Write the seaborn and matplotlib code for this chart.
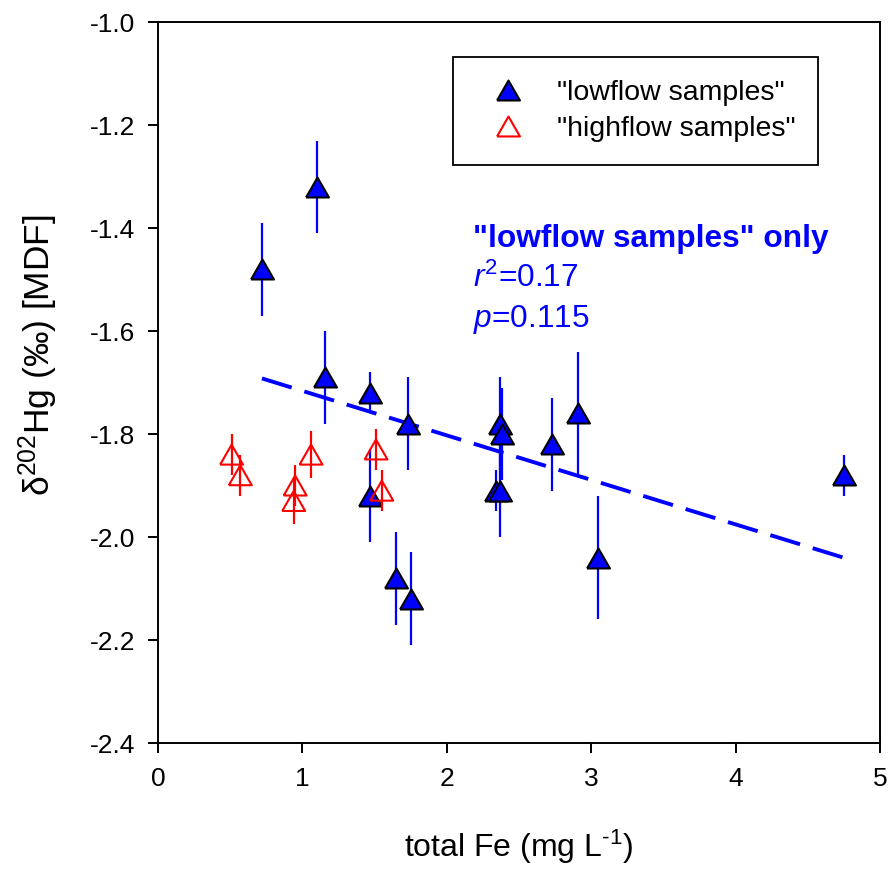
"""
Mercury isotope (d202Hg, MDF) versus total Fe for lowflow and highflow samples,
with a least-squares line fitted to the lowflow samples only.
"""

import matplotlib
matplotlib.use("Agg")
import matplotlib.pyplot as plt
from matplotlib.lines import Line2D
import pandas as pd
import seaborn as sns

# --- data ---------------------------------------------------------------
low_fe = [0.72, 1.10, 1.16, 1.47, 1.47, 1.73, 1.65, 1.75,
          2.37, 2.38, 2.34, 2.37, 2.73, 2.91, 3.05, 4.75]
low_d202 = [-1.48, -1.32, -1.69, -1.72, -1.92, -1.78, -2.08, -2.12,
            -1.78, -1.80, -1.91, -1.91, -1.82, -1.76, -2.04, -1.88]
low_err = [0.09, 0.09, 0.09, 0.04, 0.09, 0.09, 0.09, 0.09,
           0.09, 0.09, 0.04, 0.09, 0.09, 0.12, 0.12, 0.04]

high_fe = [0.51, 0.57, 0.95, 0.94, 1.06, 1.51, 1.55]
high_d202 = [-1.84, -1.88, -1.90, -1.93, -1.84, -1.83, -1.91]
high_err = [0.04, 0.04, 0.04, 0.045, 0.045, 0.04, 0.04]

legend_labels = ['"lowflow samples"', '"highflow samples"']
fit_title = '"lowflow samples" only'
fit_r2 = "0.17"
fit_p = "0.115"

x_ticks = [0, 1, 2, 3, 4, 5]
y_ticks = [-2.4, -2.2, -2.0, -1.8, -1.6, -1.4, -1.2, -1.0]

low = pd.DataFrame({"fe": low_fe, "d202": low_d202, "err": low_err})
high = pd.DataFrame({"fe": high_fe, "d202": high_d202, "err": high_err})

# --- style ----------------------------------------------------------------
sns.set_style("ticks", {"text.color": "black", "axes.labelcolor": "black",
                        "xtick.color": "black", "ytick.color": "black",
                        "axes.edgecolor": "black"})
plt.rcParams["font.family"] = ["Liberation Sans", "DejaVu Sans"]
plt.rcParams["mathtext.fontset"] = "custom"
plt.rcParams["mathtext.rm"] = "Liberation Sans"
plt.rcParams["mathtext.it"] = "Liberation Sans:italic"
plt.rcParams["axes.unicode_minus"] = False

BLUE = "#0000ff"
RED = "#ff0000"
# triangle a bit wider than tall, like the original plotting software
tri = [(-1.0, -0.87), (1.0, -0.87), (0.0, 0.87), (-1.0, -0.87)]
MS = 16.5

fig = plt.figure(figsize=(8.92, 8.72), dpi=100)
ax = fig.add_axes([0.1771, 0.1479, 0.8094, 0.8268])

# error bars first so the filled triangles sit on top of them
ax.errorbar(low["fe"], low["d202"], yerr=low["err"], fmt="none",
            ecolor=BLUE, elinewidth=1.6, capsize=0, zorder=2)
ax.errorbar(high["fe"], high["d202"], yerr=high["err"], fmt="none",
            ecolor=RED, elinewidth=1.6, capsize=0, zorder=5)

# regression on the lowflow samples only
sns.regplot(data=low, x="fe", y="d202", ax=ax, scatter=False, ci=None,
            truncate=True, color=BLUE,
            line_kws={"linewidth": 2.8, "dashes": (8, 3.4), "zorder": 3})

sns.scatterplot(data=low, x="fe", y="d202", ax=ax, marker=tri, s=MS ** 2,
                color=BLUE, edgecolor="black", linewidth=1.5, zorder=4)
sns.scatterplot(data=high, x="fe", y="d202", ax=ax, marker=tri, s=MS ** 2,
                facecolor="none", edgecolor=RED, linewidth=1.5, zorder=4)

ax.set_xlim(0, 5)
ax.set_ylim(-2.4, -1.0)
ax.set_xticks(x_ticks)
ax.set_yticks(y_ticks)
ax.set_yticklabels([f"{v:.1f}" for v in y_ticks])
ax.tick_params(axis="both", direction="out", length=7.5, width=1.4,
               labelsize=19, colors="black")
ax.tick_params(axis="x", pad=10)
ax.tick_params(axis="y", pad=9)
for sp in ax.spines.values():
    sp.set_visible(True)
    sp.set_linewidth(1.4)
    sp.set_color("black")

ax.set_xlabel(r"total Fe (mg L$^{\text{-1}}$)", fontsize=23)
ax.set_ylabel("δ$^{202}$Hg (‰) [MDF]", fontsize=25.5)
ax.xaxis.set_label_coords(0.5, -0.118)
ax.yaxis.set_label_coords(-0.136, 0.538)

handles = [
    Line2D([], [], linestyle="none", marker=tri, markersize=MS,
           markerfacecolor=BLUE, markeredgecolor="black", markeredgewidth=1.5),
    Line2D([], [], linestyle="none", marker=tri, markersize=MS,
           markerfacecolor="none", markeredgecolor=RED, markeredgewidth=1.5),
]
leg = ax.legend(handles, legend_labels, loc="upper left",
                bbox_to_anchor=(0.4086, 0.9515), fontsize=20.5,
                frameon=True, fancybox=False, framealpha=1, edgecolor="black",
                borderpad=0.8, handlelength=2.3, handletextpad=0.55,
                labelspacing=0.35, borderaxespad=0)
leg.get_frame().set_linewidth(1.3)

ax.text(0.436, 0.688, fit_title, transform=ax.transAxes, color=BLUE,
        fontsize=22.8, fontweight="bold", va="baseline")
ax.text(0.436, 0.632, "$\\mathit{r}^{2}$=" + fit_r2, transform=ax.transAxes,
        color=BLUE, fontsize=22.8, va="baseline")
ax.text(0.436, 0.577, "$\\mathit{p}$=" + fit_p, transform=ax.transAxes,
        color=BLUE, fontsize=22.8, va="baseline")

fig.savefig("out.png", dpi=100)
plt.close(fig)
